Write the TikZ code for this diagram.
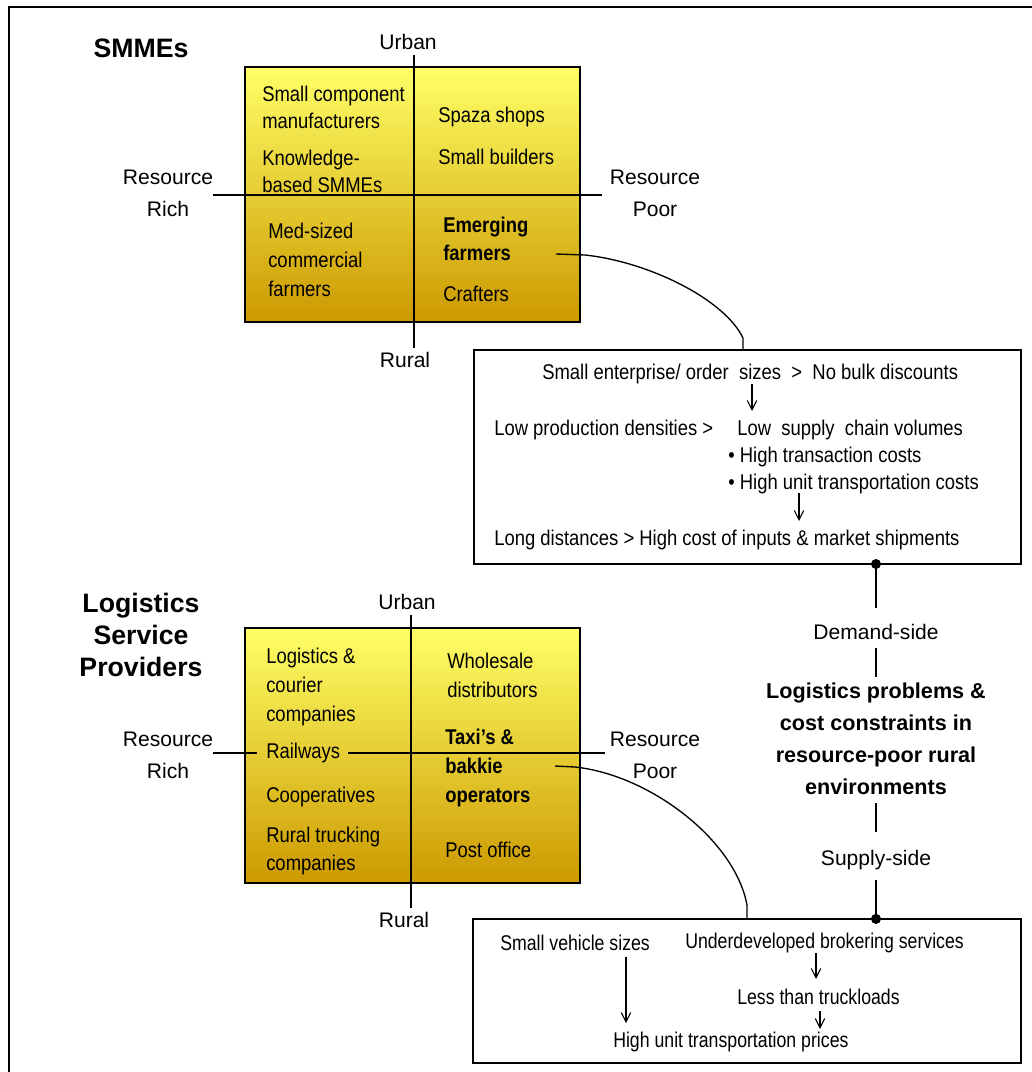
\documentclass[tikz,border=0pt]{standalone}
\usepackage{fontspec}
\setmainfont{Liberation Sans}
\newfontfamily\nf{Liberation Sans}[FakeStretch=0.865]
\newfontfamily\nfb{Liberation Sans}[FakeStretch=0.83]
\usetikzlibrary{arrows.meta}
\definecolor{ytop}{RGB}{255,255,102}
\definecolor{ybot}{RGB}{204,153,0}
\tikzset{
 txt/.style={font=\nf\fontsize{16}{20.6}\selectfont, inner sep=0pt, align=left, anchor=west},
 txtb/.style={txt, font=\nfb\fontsize{16}{20.6}\selectfont},
 btxt/.style={txt, font=\nf\bfseries\fontsize{16}{21}\selectfont},
 lbl/.style={font=\fontsize{15.8}{24}\selectfont, inner sep=0pt, align=center},
 ttl/.style={font=\bfseries\fontsize{20}{24}\selectfont, inner sep=0pt, align=center},
 ctr/.style={font=\bfseries\fontsize{16.2}{24}\selectfont, inner sep=0pt, align=center},
 quadbox/.style={top color=ytop, bottom color=ybot, draw=black, line width=1pt},
 infobox/.style={draw=black, fill=white, line width=1pt},
 axisline/.style={line width=1pt},
 arr/.style={line width=0.8pt, -{Straight Barb[length=7pt,width=7pt]}},
 link/.style={line width=1pt},
 dotc/.style={circle, fill=black, inner sep=0pt, minimum size=7.5pt}
}
\begin{document}
\begin{tikzpicture}[x=0.75pt,y=-0.75pt]
\useasboundingbox (0,0) rectangle (1032,1072);
\draw[line width=1.5pt] (9,1080) -- (9,7) -- (1040,7);

% ---------- SMMEs matrix ----------
\shadedraw[quadbox] (245,67) rectangle (580,322);
\node[ttl] (smme) at (141,48) {SMMEs};
\node[lbl] (u1) at (408,42) {Urban};
\node[lbl] (r1) at (405,360) {Rural};
\node[lbl] (rr1) at (168,193) {Resource\\Rich};
\node[lbl] (rp1) at (655,193) {Resource\\Poor};
\coordinate (a1t) at (414,55);
\coordinate (a1b) at (414,348);
\coordinate (a1l) at (213,195);
\coordinate (a1r) at (602,195);
\draw[axisline] (a1t) -- (a1b);
\draw[axisline] (a1l) -- (a1r);
\node[txt] (scm) at (262,107.5) {Small component\\manufacturers};
\node[txt] (kb) at (262,171.5) {Knowledge-\\based SMMEs};
\node[txt] (msc) at (268,260) {Med-sized\\[1pt]commercial\\[1pt]farmers};
\node[txt] (spz) at (438,117) {Spaza shops};
\node[txt] (sb) at (438,157) {Small builders};
\node[btxt] (emf) at (443,239) {Emerging\\farmers};
\node[txt] (cra) at (443,294) {Crafters};

% ---------- demand-side box ----------
\draw[infobox] (474,350) rectangle (1021,564);
\node[txt] (b1a) at (542,374) {Small enterprise/ order\ \ sizes\ \ >\ \ No bulk discounts};
\node[txt] (b1b) at (494,430) {Low production densities >};
\node[txt] (b1c) at (737,430) {Low\ \ supply\ \ chain volumes};
\node[txt] (b1d) at (728,457) {• High transaction costs};
\node[txt] (b1e) at (728,484) {• High unit transportation costs};
\node[txt] (b1f) at (494,540) {Long distances > High cost of inputs \& market shipments};
\coordinate (ar1s) at (752,384);
\coordinate (ar1e) at (752,411);
\coordinate (ar2s) at (799,493);
\coordinate (ar2e) at (799,521);
\draw[arr] (ar1s) -- (ar1e);
\draw[arr] (ar2s) -- (ar2e);

% connector from Emerging farmers
\coordinate (c1a) at (556,254);
\coordinate (c1b) at (585,255);
\coordinate (c1c) at (743,338);
\coordinate (c1d) at (743,350);
\draw[link] (c1a) -- (c1b) .. controls (650,262) and (725,300) .. (c1c) -- (c1d);

% ---------- centre column ----------
\node[dotc] (d1) at (876,564) {};
\node[lbl] (dem) at (876,632) {Demand-side};
\node[ctr] (core) at (876,739) {Logistics problems \&\\cost constraints in\\resource-poor rural\\environments};
\node[lbl] (sup) at (876,860) {Supply-side};
\node[dotc] (d2) at (876,919) {};
\coordinate (dmT) at (876,608);
\coordinate (dmB) at (876,648);
\coordinate (crT) at (876,677);
\coordinate (crB) at (876,803);
\coordinate (spT) at (876,832);
\coordinate (spB) at (876,880);
\draw[link] (d1.center) -- (dmT);
\draw[link] (dmB) -- (crT);
\draw[link] (crB) -- (spT);
\draw[link] (spB) -- (d2.center);

% ---------- Logistics service providers matrix ----------
\shadedraw[quadbox] (245,628) rectangle (580,883);
\node[ttl] (lsp) at (141,635) {Logistics\\Service\\Providers};
\node[lbl] (u2) at (407,602) {Urban};
\node[lbl] (r2) at (404,920) {Rural};
\node[lbl] (rr2) at (168,755) {Resource\\Rich};
\node[lbl] (rp2) at (655,755) {Resource\\Poor};
\node[txt] (lcc) at (266,687) {Logistics \&\\[1pt]courier\\[1pt]companies};
\node[txt] (rw) at (266,753) {Railways};
\node[txt] (coop) at (266,797) {Cooperatives};
\node[txt] (rtc) at (266,851) {Rural trucking\\[1pt]companies};
\node[txt] (wd) at (447,675) {Wholesale\\[1pt]distributors};
\node[btxt] (tbo) at (445,768) {Taxi’s \&\\[1pt]bakkie\\[1pt]operators};
\node[txt] (po) at (445,850) {Post office};
\coordinate (a2t) at (411,615);
\coordinate (a2b) at (411,908);
\coordinate (a2l) at (213,753);
\coordinate (a2r) at (605,753);
\draw[axisline] (a2t) -- (a2b);
\draw[axisline] (a2l) -- (257,753);
\draw[axisline] (348,753) -- (a2r);

% connector from Taxi's & bakkie operators
\coordinate (c2a) at (555,766);
\coordinate (c2b) at (575,767);
\coordinate (c2c) at (747,905);
\coordinate (c2d) at (747,919);
\draw[link] (c2a) -- (c2b) .. controls (650,775) and (735,840) .. (c2c) -- (c2d);

% ---------- supply-side box ----------
\draw[infobox] (473,919) rectangle (1021,1063);
\node[dotc] at (876,919) {};
\node[txtb] (svs) at (500,943) {Small vehicle sizes};
\node[txtb] (ubs) at (685,943) {Underdeveloped brokering services};
\node[txtb] (ltt) at (737,997) {Less than truckloads};
\node[txtb] (hup) at (613,1042) {High unit transportation prices};
\coordinate (ar3s) at (626,957);
\coordinate (ar3e) at (626,1023);
\coordinate (ar4s) at (816,953);
\coordinate (ar4e) at (816,979);
\coordinate (ar5s) at (820,1011);
\coordinate (ar5e) at (820,1029);
\draw[arr] (ar3s) -- (ar3e);
\draw[arr] (ar4s) -- (ar4e);
\draw[arr] (ar5s) -- (ar5e);
\end{tikzpicture}
\end{document}
